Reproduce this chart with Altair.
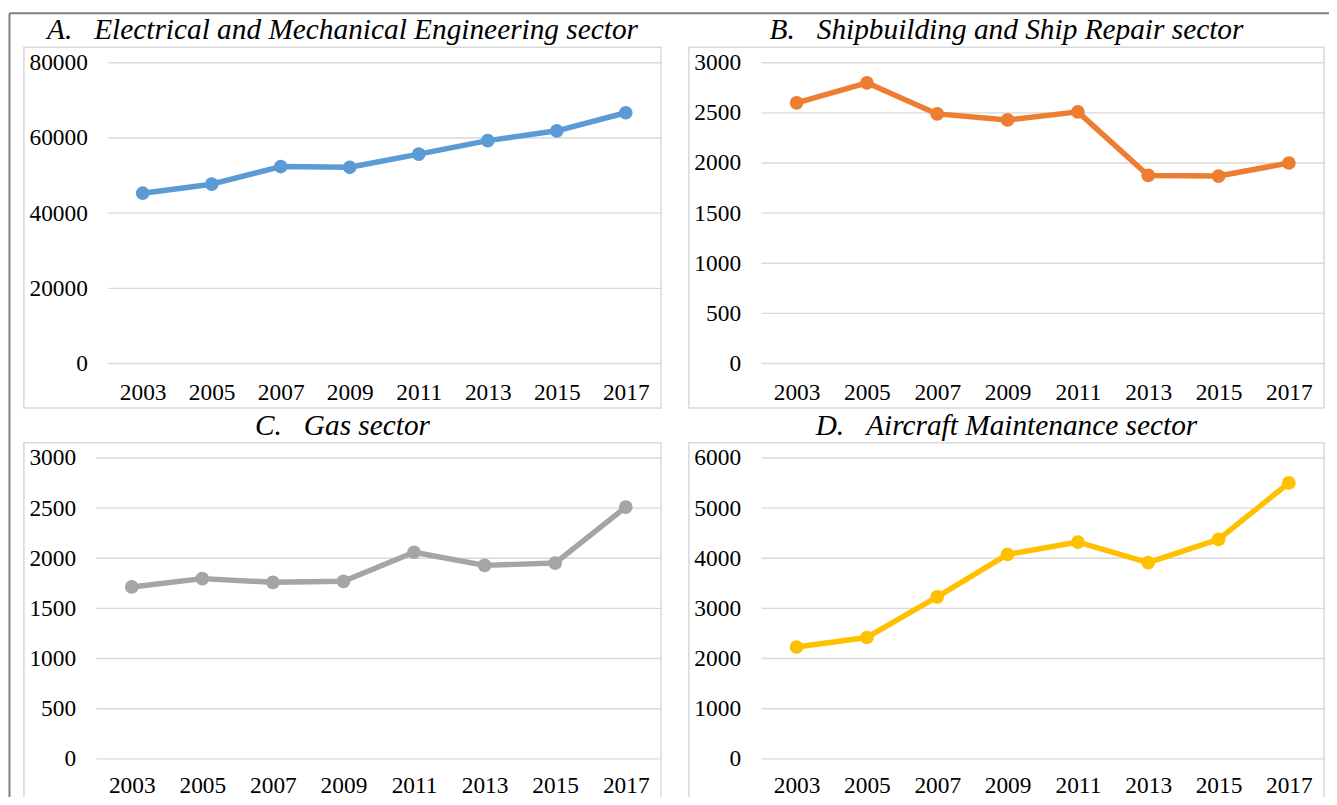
import altair as alt
import pandas as pd

# ---------------- data ----------------
years = ["2003", "2005", "2007", "2009", "2011", "2013", "2015", "2017"]
elec_values = [45300, 47700, 52400, 52200, 55700, 59300, 61900, 66700]
ship_values = [2600, 2800, 2490, 2430, 2510, 1876, 1870, 2000]
gas_values = [1714, 1797, 1760, 1770, 2060, 1929, 1952, 2510]
air_values = [2230, 2420, 3230, 4077, 4323, 3912, 4376, 5503]
ticks_a = [0, 20000, 40000, 60000, 80000]
ticks_b = [0, 500, 1000, 1500, 2000, 2500, 3000]
ticks_c = [0, 500, 1000, 1500, 2000, 2500, 3000]
ticks_d = [0, 1000, 2000, 3000, 4000, 5000, 6000]
letters = ["A.", "B.", "C.", "D."]
names = [
    "Electrical and Mechanical Engineering sector",
    "Shipbuilding and Ship Repair sector",
    "Gas sector",
    "Aircraft Maintenance sector",
]
colors = ["#5b9bd5", "#ed7d31", "#a5a5a5", "#ffc000"]

# ---------------- layout (page pixels; svg origin is at page 8,8) ----------------
W, H = 1329, 789
FONT = "Liberation Serif"
GRID = "#d9d9d9"
NBSP = "\u00a0"


def s(v):
    return v - 8


def panel(letter, name, values, ticks, color, box_l, box_r, box_t, box_b,
          plot_l, plot_r, y0, ytop, xlab_y, title_base):
    df = pd.DataFrame({"Year": years, "Value": values})
    gdf = pd.DataFrame({"Value": ticks})
    yscale = alt.Scale(domain=[ticks[0], ticks[-1]], range=[s(y0), s(ytop)],
                       nice=False, zero=False)
    xscale = alt.Scale(type="point", range=[s(plot_l), s(plot_r)], padding=0.5)
    xaxis = alt.Axis(orient="bottom", offset=s(xlab_y) - H, labelPadding=0,
                     labelBaseline="middle", labelAngle=0, domain=False,
                     ticks=False, tickSize=0, grid=False, labelFont=FONT,
                     labelFontSize=23.5, labelColor="black", title=None,
                     labelOverlap=False)
    yaxis = alt.Axis(orient="left", offset=-s(plot_l), labelPadding=21,
                     values=ticks, format="d", domain=False, ticks=False,
                     tickSize=0, grid=False, labelFont=FONT, labelFontSize=23.5,
                     labelColor="black", title=None)

    grid = alt.Chart(gdf).mark_rule(color=GRID, strokeWidth=1.4).encode(
        y=alt.Y("Value:Q", scale=yscale, axis=yaxis),
        x=alt.value(s(plot_l)),
        x2=alt.value(s(box_r)),
    )
    enc = dict(
        x=alt.X("Year:O", scale=xscale, axis=xaxis, sort=years),
        y=alt.Y("Value:Q", scale=yscale, axis=yaxis),
    )
    line = alt.Chart(df).mark_line(color=color, strokeWidth=5.5,
                                   strokeJoin="round").encode(**enc)
    pts = alt.Chart(df).mark_circle(color=color, size=190, opacity=1).encode(**enc)

    box = alt.Chart(alt.Data(values=[{"k": 0}])).mark_rect(
        fill="transparent", stroke=GRID, strokeWidth=1.5
    ).encode(
        x=alt.value(s(box_l)), x2=alt.value(s(box_r)),
        y=alt.value(s(box_t)), y2=alt.value(s(box_b)),
    )
    title = alt.Chart(alt.Data(values=[{"k": 0}])).mark_text(
        font=FONT, fontSize=29.5, fontStyle="italic", color="black",
        align="center", baseline="alphabetic",
    ).encode(
        x=alt.value(s((box_l + box_r) / 2)), y=alt.value(s(title_base)),
        text=alt.value(letter + NBSP * 3 + name),
    )
    return alt.layer(box, grid, line, pts, title)


pA = panel(letters[0], names[0], elec_values, ticks_a, colors[0],
           24, 665, 45, 408, 108.8, 664.2, 363.3, 60.7, 392, 37.3)
pB = panel(letters[1], names[1], ship_values, ticks_b, colors[1],
           693, 1332, 45, 408, 766, 1332, 363.3, 60.7, 392, 37.3)
pC = panel(letters[2], names[2], gas_values, ticks_c, colors[2],
           24, 665, 443, 830, 97, 665, 761, 458.3, 788, 435.3)
pD = panel(letters[3], names[3], air_values, ticks_d, colors[3],
           693, 1332, 443, 830, 766, 1332, 761, 458.3, 788, 435.3)

one = alt.Data(values=[{"k": 0}])
frame_left = alt.Chart(one).mark_rule(color="#7f7f7f", strokeWidth=2).encode(
    x=alt.value(s(9.5)), y=alt.value(s(11)), y2=alt.value(H + 20))
frame_top = alt.Chart(one).mark_rule(color="#7f7f7f", strokeWidth=2).encode(
    x=alt.value(s(9.5)), x2=alt.value(W + 20), y=alt.value(s(11)))

chart = alt.layer(pA, pB, pC, pD, frame_left, frame_top).resolve_scale(
    x="independent", y="independent"
).properties(
    width=W, height=H, padding=0,
    autosize=alt.AutoSizeParams(type="none"),
).configure_view(strokeOpacity=0)

chart.save("out.html", embed_options={"renderer": "svg", "actions": False})
